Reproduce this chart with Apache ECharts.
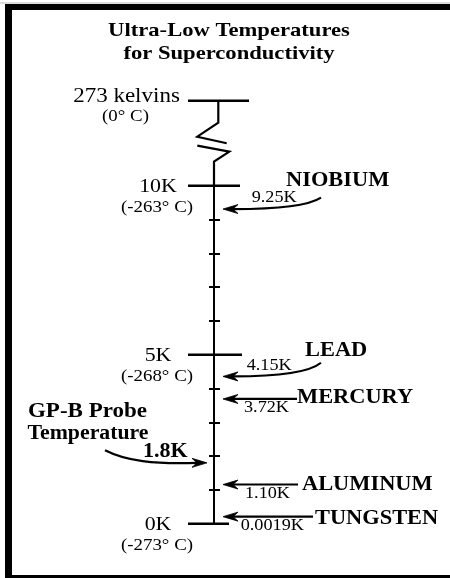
<!DOCTYPE html>
<html><head><meta charset="utf-8">
<script src="https://cdn.jsdelivr.net/npm/echarts@6/dist/echarts.min.js"></script>
<style>html,body{margin:0;padding:0;background:#fff}#c{width:450px;height:578px}</style>
</head><body><div id="c"></div>
<script>
// ---------------- data ----------------
const titleLines = ['Ultra-Low Temperatures', 'for Superconductivity'];
const scaleMinK = 0, scaleMaxK = 10, minorStepK = 1;
const majorTicksK = [0, 5, 10];
const majorTickLabels = ['0K', '5K', '10K'];
const majorTickCelsius = ['(-273° C)', '(-268° C)', '(-263° C)'];
const roomTempLabel = '273 kelvins';
const roomTempCelsius = '(0° C)';
const elementNames = ['NIOBIUM', 'LEAD', 'MERCURY', 'ALUMINUM', 'TUNGSTEN'];
const elementTempsK = [9.25, 4.15, 3.72, 1.10, 0.0019];
const elementTempLabels = ['9.25K', '4.15K', '3.72K', '1.10K', '0.0019K'];
const probeLabelLines = ['GP-B Probe', 'Temperature'];
const probeTempK = 1.8;
const probeTempLabel = '1.8K';

// ---------------- layout / style ----------------
const SERIF = '"Liberation Serif","Times New Roman",Times,serif';
const INK = '#000';
// per element: arrow kind, tail offset, name offset, value offset (px, relative to axis x / arrow y)
const elementLayout = [
  {curved: true,  tail: [107, -11.5], name: [72, -22],  val: [37.7, -5.7], nudge: -2},
  {curved: true,  tail: [107, -13.7], name: [91, -18.7], val: [32.7, -5],  nudge: -7},
  {curved: false, tail: [83, 0],      name: [83, 5.7],  val: [30, 13.7],  nudge: 1},
  {curved: false, tail: [84, 0],      name: [88, 7.4],  val: [31, 14.7],  nudge: -2},
  {curved: false, tail: [99, 0],      name: [101, 8.3], val: [26.7, 15],  nudge: -7}
];
const majorBarRight = [15, 28, 26];

function txt(text, x, baseline, size, bold, align, sx) {
  return {
    type: 'text', x: x, y: baseline - 0.33 * size, scaleX: sx || 1,
    style: {text: text, fill: INK, font: (bold ? 'bold ' : '') + size + 'px ' + SERIF,
            align: align || 'left', verticalAlign: 'middle'}
  };
}
function seg(x1, y1, x2, y2, w) {
  return {type: 'line', shape: {x1, y1, x2, y2}, style: {stroke: INK, lineWidth: w || 2}};
}
function poly(pts, w) {
  return {type: 'polyline', shape: {points: pts}, style: {stroke: INK, lineWidth: w || 2, fill: null, lineJoin: 'miter'}};
}
function head(tx, ty, dir) { // dir -1 = points left, +1 = points right
  return {type: 'polygon', shape: {points: [[tx, ty], [tx - dir * 15, ty - 4.5], [tx - dir * 10, ty], [tx - dir * 15, ty + 4.5]]},
          style: {fill: INK, stroke: INK, lineWidth: 0.8}};
}

const chart = echarts.init(document.getElementById('c'));

const option = {
  animation: false,
  backgroundColor: '#fff',
  grid: {left: 214, right: 200, top: 185.7, bottom: 54.3},
  xAxis: {type: 'value', min: 0, max: 1, show: false},
  yAxis: [
    {type: 'value', min: scaleMinK, max: scaleMaxK, interval: minorStepK, position: 'left',
     axisLine: {show: true, lineStyle: {color: INK, width: 2}},
     axisTick: {show: true, inside: false, length: 5, lineStyle: {color: INK, width: 2}},
     axisLabel: {show: false}, splitLine: {show: false}},
    {type: 'value', min: scaleMinK, max: scaleMaxK, interval: minorStepK, position: 'left', offset: 0,
     axisLine: {show: false},
     axisTick: {show: true, inside: true, length: 6, lineStyle: {color: INK, width: 2}},
     axisLabel: {show: false}, splitLine: {show: false}}
  ],
  graphic: [
    {type: 'rect', shape: {x: 5, y: 4, width: 450, height: 6}, style: {fill: INK}},
    {type: 'rect', shape: {x: 5, y: 4, width: 7, height: 580}, style: {fill: INK}},
    {type: 'rect', shape: {x: 5, y: 575, width: 450, height: 4}, style: {fill: INK}},
    {type: 'rect', shape: {x: 0, y: 2.5, width: 450, height: 1}, style: {fill: '#bbb'}},
    txt(titleLines[0], 229, 37.7, 19, true, 'center', 1.19),
    txt(titleLines[1], 229, 60, 19, true, 'center', 1.19)
  ],
  series: [
    { // major bars with K / Celsius labels
      type: 'custom', xAxisIndex: 0, yAxisIndex: 0, clip: false,
      data: majorTicksK.map(v => [0, v]),
      renderItem: function (params, api) {
        const i = params.dataIndex;
        const p = api.coord([0, api.value(1)]);
        return {type: 'group', children: [
          seg(p[0] - 26, p[1], p[0] + majorBarRight[i], p[1], 2.4),
          txt(majorTickLabels[i], p[0] - 56, p[1] + 7.5, 19, false, 'center', 1.15),
          txt(majorTickCelsius[i], p[0] - 57, p[1] + 27, 16, false, 'center', 1.18)
        ]};
      }
    },
    { // axis break up to 273 K
      type: 'custom', xAxisIndex: 0, yAxisIndex: 0, clip: false,
      data: [[0, scaleMaxK]],
      renderItem: function (params, api) {
        const p = api.coord([0, api.value(1)]);
        const X = p[0], Y = p[1];
        return {type: 'group', children: [
          poly([[X, Y], [X, Y - 24], [X + 15.3, Y - 34], [X - 16.7, Y - 40]], 2.2),
          poly([[X + 12.7, Y - 42.4], [X - 16.7, Y - 49], [X + 4.3, Y - 63], [X + 4.3, Y - 85]], 2.2),
          seg(X - 26, Y - 85, X + 35, Y - 85, 2.4),
          txt(roomTempLabel, X - 87.5, Y - 82.7, 20, false, 'center', 1.15),
          txt(roomTempCelsius, X - 88.5, Y - 63.7, 16, false, 'center', 1.18)
        ]};
      }
    },
    { // elements
      type: 'custom', xAxisIndex: 0, yAxisIndex: 0, clip: false,
      data: elementTempsK.map(v => [0, v]),
      renderItem: function (params, api) {
        const i = params.dataIndex, L = elementLayout[i];
        const p = api.coord([0, api.value(1)]);
        const X = p[0], Y = p[1] + L.nudge;
        const tipX = X + 9;
        const kids = [];
        if (L.curved) {
          kids.push({type: 'bezierCurve', shape: {
            x1: X + L.tail[0], y1: Y + L.tail[1],
            cpx1: X + L.tail[0] - 13, cpy1: Y - 3,
            cpx2: X + 56, cpy2: Y,
            x2: tipX + 10, y2: Y}, style: {stroke: INK, lineWidth: 2.2, fill: null}});
        } else {
          kids.push(seg(X + L.tail[0], Y, tipX + 10, Y, 2.2));
        }
        kids.push(head(tipX, Y, -1));
        kids.push(txt(elementNames[i], X + L.name[0], Y + L.name[1], 20, true, 'left', 1.12));
        kids.push(txt(elementTempLabels[i], X + L.val[0], Y + L.val[1], 17, false, 'left', 1.07));
        return {type: 'group', children: kids};
      }
    },
    { // GP-B probe temperature
      type: 'custom', xAxisIndex: 0, yAxisIndex: 0, clip: false,
      data: [[0, probeTempK]],
      renderItem: function (params, api) {
        const p = api.coord([0, api.value(1)]);
        const X = p[0], Y = p[1];
        const tipX = X - 7;
        return {type: 'group', children: [
          {type: 'bezierCurve', shape: {x1: X - 109, y1: Y - 12.7, cpx1: X - 88, cpy1: Y - 2,
            cpx2: X - 60, cpy2: Y + 1.5, x2: tipX - 10, y2: Y}, style: {stroke: INK, lineWidth: 2.2, fill: null}},
          head(tipX, Y, 1),
          txt(probeTempLabel, X - 71, Y - 4.5, 21, true, 'left', 1.05),
          txt(probeLabelLines[0], X - 126.5, Y - 44.5, 20, true, 'center', 1.15),
          txt(probeLabelLines[1], X - 126, Y - 22.7, 20, true, 'center', 1.09)
        ]};
      }
    }
  ]
};
chart.setOption(option);
</script>
</body></html>
